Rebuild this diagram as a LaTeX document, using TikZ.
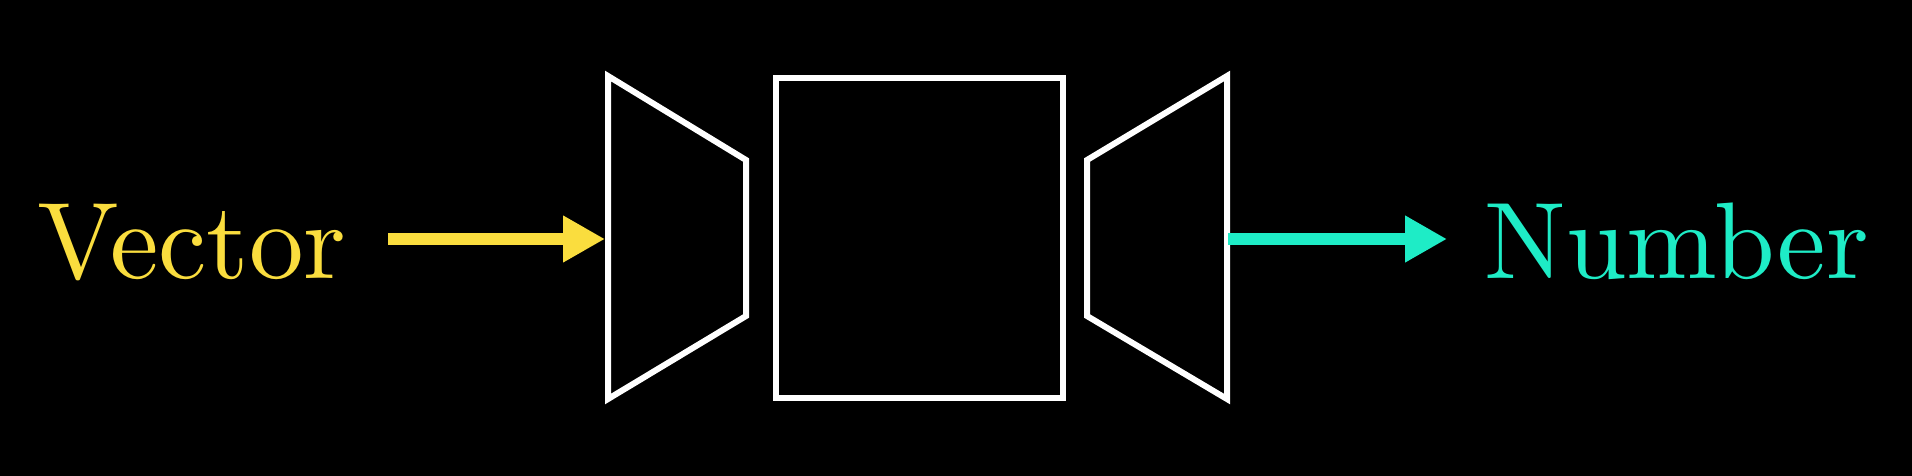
\documentclass[tikz,border=0pt]{standalone}
\usepackage{tikz}
\usepackage{xcolor}
\usepackage{fontspec}
\setmainfont{lmroman10-regular.otf}
\usetikzlibrary{arrows.meta}
\definecolor{vecyellow}{RGB}{250,221,62}
\definecolor{numteal}{RGB}{30,236,198}
\tikzset{
    lab/.style={
        font=\fontsize{62}{72}\selectfont, inner sep=0pt, anchor=base west
    },
    block/.style={
        draw=white, line width=0.12cm, line join=miter
    },
    flow/.style={
        line width=0.26cm, -{Triangle[length=0.84cm,width=0.88cm]}
    }
}

\begin{document}
\begin{tikzpicture}[x=0.02cm,y=-0.02cm]

% --- geometry (pixels, origin top left) ---
    \def\ytop{76}                       % top of the trapezoids
    \def\ybot{399}                      % bottom of the trapezoids
    \def\yin{160}                       % top of the short sides
    \def\yinb{316}                      % bottom of the short sides
    \def\ymid{239}                      % arrow height

% background
    \fill[black] (0,0) rectangle (1912,476);
    \useasboundingbox (0,0) rectangle (1912,476);

% encoder (left trapezoid)
    \draw[block] (608,\ytop) -- (746,\yin) -- (746,\yinb)
        -- (608,\ybot) -- cycle;

% middle box
    \draw[block] (776,78.5) rectangle (1063,397.5);

% decoder (right trapezoid)
    \draw[block] (1227,\ytop) -- (1087,\yin) -- (1087,\yinb)
        -- (1227,\ybot) -- cycle;

% ports
    \coordinate (encin)  at (605,\ymid);
    \coordinate (decout) at (1228,\ymid);
    \coordinate (vecout) at (388,\ymid);
    \coordinate (numin)  at (1447,\ymid);

% labels
    \node[lab, text=vecyellow] (vec) at (37,278) {Vector};
    \node[lab, text=numteal]   (num) at (1484,278) {Number};

% arrows
    \draw[flow, vecyellow] (vecout) -- (encin);
    \draw[flow, numteal]   (decout) -- (numin);

  \end{tikzpicture}
\end{document}
